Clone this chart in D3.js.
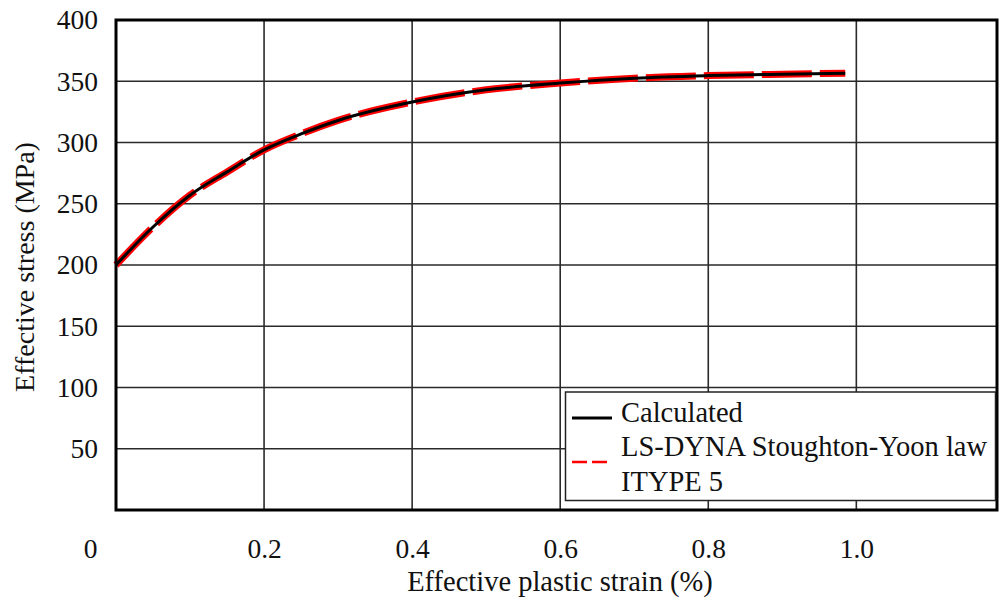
<!DOCTYPE html>
<html>
<head>
<meta charset="utf-8">
<script src="https://cdn.jsdelivr.net/npm/d3@7"></script>
<style>
  body { margin: 0; background: #fff; }
  text { font-family: "Liberation Serif", "Times New Roman", serif; fill: #111; }
</style>
</head>
<body>
<div class="chart"></div>
<script>
// values
const strain = [0, 0.05, 0.1, 0.15, 0.2, 0.25, 0.3, 0.4, 0.5, 0.6, 0.7, 0.8, 0.9, 0.985];
const calculated = [200, 231, 257, 276, 294, 307, 318, 333, 343, 348.5, 352.5, 354.6, 355.8, 356.6];
const lsdyna = [200, 231, 257, 276, 294, 307, 318, 333, 343, 348.5, 352.5, 354.6, 355.8, 356.6];
const xTicks = [0, 0.2, 0.4, 0.6, 0.8, 1.0];
const xTickLabels = ['0', '0.2', '0.4', '0.6', '0.8', '1.0'];
const yTicks = [50, 100, 150, 200, 250, 300, 350, 400];
const legendLabels = ['Calculated', 'LS-DYNA Stoughton-Yoon law', 'ITYPE 5'];

const W = 999, H = 601;
const margin = {top: 20, left: 116, bottom: 91, right: 2};

const svg = d3.select('.chart')
    .append('svg')
    .attr('width', W)
    .attr('height', H);

const xScale = d3.scaleLinear()
    .domain([0, 1.19])
    .range([margin.left, W - margin.right]);

const yScale = d3.scaleLinear()
    .domain([0, 400])
    .range([H - margin.bottom, margin.top]);

// grid
svg.append('g')
    .selectAll('line')
    .data(xTicks.slice(1))
    .enter()
    .append('line')
    .attr('x1', d => xScale(d)).attr('x2', d => xScale(d))
    .attr('y1', yScale(0)).attr('y2', yScale(400))
    .attr('stroke', '#2a2a2a').attr('stroke-width', 1.6);

svg.append('g')
    .selectAll('line')
    .data(yTicks.slice(0, -1))
    .enter()
    .append('line')
    .attr('x1', xScale(0)).attr('x2', xScale(1.19))
    .attr('y1', d => yScale(d)).attr('y2', d => yScale(d))
    .attr('stroke', '#2a2a2a').attr('stroke-width', 1.6);

// axes (labels only, frame drawn below)
const xAxis = d3.axisBottom(xScale)
    .tickValues(xTicks)
    .tickFormat((d, i) => xTickLabels[i])
    .tickSize(0)
    .tickPadding(28);
const gx = svg.append('g')
    .attr('transform', `translate(0,${yScale(0)})`)
    .call(xAxis);
gx.select('.domain').remove();
gx.selectAll('text')
    .attr('font-size', 27.5)
    .attr('font-family', '"Liberation Serif", serif')
    .attr('fill', '#111')
    .attr('dx', (d, i) => i === 0 ? -26 : 0);

const yAxis = d3.axisLeft(yScale)
    .tickValues(yTicks)
    .tickSize(0)
    .tickPadding(18);
const gy = svg.append('g')
    .attr('transform', `translate(${xScale(0)},0)`)
    .call(yAxis);
gy.select('.domain').remove();
gy.selectAll('text')
    .attr('font-size', 27.5)
    .attr('font-family', '"Liberation Serif", serif')
    .attr('fill', '#111');

// curves
const line = d3.line()
    .x(d => xScale(d[0]))
    .y(d => yScale(d[1]))
    .curve(d3.curveMonotoneX);

svg.append('path')
    .datum(strain.map((s, i) => [s, lsdyna[i]]))
    .attr('d', line)
    .attr('fill', 'none')
    .attr('stroke', '#ff0000')
    .attr('stroke-width', 7)
    .attr('stroke-dasharray', '50,8');

svg.append('path')
    .datum(strain.map((s, i) => [s, calculated[i]]))
    .attr('d', line)
    .attr('fill', 'none')
    .attr('stroke', '#000')
    .attr('stroke-width', 3);

// frame
svg.append('rect')
    .attr('x', xScale(0))
    .attr('y', yScale(400))
    .attr('width', xScale(1.19) - xScale(0))
    .attr('height', yScale(0) - yScale(400))
    .attr('fill', 'none')
    .attr('stroke', '#000')
    .attr('stroke-width', 3);

// axis titles
svg.append('text')
    .attr('x', 560)
    .attr('y', 591)
    .attr('text-anchor', 'middle')
    .attr('font-size', 28.5)
    .text('Effective plastic strain (%)');

svg.append('text')
    .attr('transform', 'translate(34,267) rotate(-90)')
    .attr('text-anchor', 'middle')
    .attr('font-size', 28)
    .text('Effective stress (MPa)');

// legend
const lg = svg.append('g');
lg.append('rect')
    .attr('x', 565.5).attr('y', 392)
    .attr('width', 430).attr('height', 108.5)
    .attr('fill', '#fff')
    .attr('stroke', '#222')
    .attr('stroke-width', 1.5);

lg.append('line')
    .attr('x1', 572).attr('x2', 612)
    .attr('y1', 418).attr('y2', 418)
    .attr('stroke', '#000').attr('stroke-width', 2.8);

lg.append('line')
    .attr('x1', 572).attr('x2', 612)
    .attr('y1', 462).attr('y2', 462)
    .attr('stroke', '#ff0000').attr('stroke-width', 2.5)
    .attr('stroke-dasharray', '15,5');

lg.selectAll('text')
    .data(legendLabels)
    .enter()
    .append('text')
    .attr('x', 621)
    .attr('y', (d, i) => 421.5 + i * 34.5)
    .attr('font-size', 28.5)
    .text(d => d);
</script>
</body>
</html>
